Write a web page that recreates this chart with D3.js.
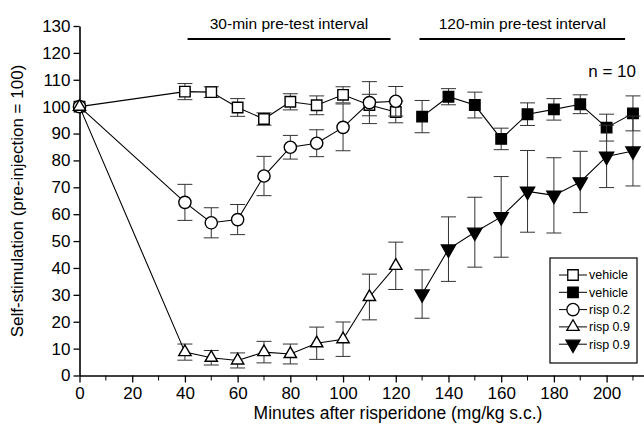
<!DOCTYPE html>
<html>
<head>
<meta charset="utf-8">
<script src="https://cdn.jsdelivr.net/npm/d3@7"></script>
<style>
  body { margin: 0; background: #fff; }
  svg { font-family: "Liberation Sans", Arial, sans-serif; }
</style>
</head>
<body>
<svg></svg>
<script>
const svgWidth = 644;
const svgHeight = 426;

// time points (minutes)
const times30 = [0, 40, 50, 60, 70, 80, 90, 100, 110, 120];
const times120 = [130, 140, 150, 160, 170, 180, 190, 200, 210];

// 30-min pre-test interval
const vehicleOpen = [100, 105.6, 105.4, 99.7, 95.4, 101.8, 100.5, 104.4, 100.6, 98];
const vehicleOpenErr = [0, 3, 2, 3.3, 2.3, 3, 3.5, 3, 4, 4];
const risp02 = [100, 64.4, 56.8, 58, 74.2, 84.9, 86.4, 92.3, 101.5, 102];
const risp02Err = [0, 6.7, 5.6, 5.6, 7.3, 4.4, 5, 8.7, 7.8, 5.5];
const risp09Open = [100, 8.7, 6.6, 5.6, 8.7, 8, 12, 13.5, 29.2, 40.8];
const risp09OpenErr = [0, 3, 2.7, 2.8, 4, 3.7, 6, 6.4, 8.5, 8.8];

// 120-min pre-test interval
const vehicleFilled = [96.3, 103.7, 100.6, 88, 97.2, 99, 100.9, 92.2, 97.5];
const vehicleFilledErr = [6, 3, 4.8, 4, 4.2, 4, 3.5, 5, 6.5];
const risp09Filled = [30.3, 47, 53.3, 59, 68.5, 67, 72, 81.5, 83.5];
const risp09FilledErr = [9, 12, 13, 15, 15.2, 14, 11.4, 11.6, 13];

const yTicks = d3.range(0, 131, 10);
const xTicksMajor = d3.range(0, 201, 20);
const xTicksMinor = d3.range(10, 211, 20);

const legendLabels = ["vehicle", "vehicle", "risp 0.2", "risp 0.9", "risp 0.9"];
const intervals = [
	{ label: "30-min pre-test interval", from: 41, to: 118 },
	{ label: "120-min pre-test interval", from: 129, to: 207 }
];

const svg = d3.select("svg")
	.attr("width", svgWidth)
	.attr("height", svgHeight);

const xScale = d3.scaleLinear()
	.domain([0, 214])
	.range([79.5, 643.5]);

const yScale = d3.scaleLinear()
	.domain([0, 130])
	.range([375.5, 26]);

const symSquare = d3.symbol().type(d3.symbolSquare).size(110);
const symCircle = d3.symbol().type(d3.symbolCircle).size(118);
const symTriUp = d3.symbol().type(d3.symbolTriangle).size(66);
const symTriDown = d3.symbol().type(d3.symbolTriangle).size(86);

const seriesList = [
	{ t: times120, v: vehicleFilled, e: vehicleFilledErr, sym: symSquare, fill: "#000", rot: 0 },
	{ t: times120, v: risp09Filled, e: risp09FilledErr, sym: symTriDown, fill: "#000", rot: 180 },
	{ t: times30, v: vehicleOpen, e: vehicleOpenErr, sym: symSquare, fill: "#fff", rot: 0 },
	{ t: times30, v: risp02, e: risp02Err, sym: symCircle, fill: "#fff", rot: 0 },
	{ t: times30, v: risp09Open, e: risp09OpenErr, sym: symTriUp, fill: "#fff", rot: 0 }
];

// Axes
const yAxis = d3.axisLeft(yScale)
	.tickValues(yTicks)
	.tickSize(6)
	.tickSizeOuter(0)
	.tickPadding(3);

const gy = svg.append("g")
	.attr("transform", `translate(${xScale(0)},0)`)
	.call(yAxis);

const xAxis = d3.axisBottom(xScale)
	.tickValues(xTicksMajor)
	.tickSize(7)
	.tickSizeOuter(0)
	.tickPadding(3);

const gx = svg.append("g")
	.attr("transform", `translate(0,${yScale(0)})`)
	.call(xAxis);

gx.selectAll(".minor")
	.data(xTicksMinor)
	.enter()
	.append("line")
	.attr("x1", d => xScale(d))
	.attr("x2", d => xScale(d))
	.attr("y1", 0)
	.attr("y2", 5)
	.attr("stroke", "#000");

[gx, gy].forEach(g => {
	g.select(".domain").attr("stroke-width", 1.6);
	g.selectAll(".tick line").attr("stroke-width", 1.3);
	g.selectAll("text")
		.attr("font-size", 17)
		.attr("fill", "#000")
		.attr("font-family", "Liberation Sans, Arial, sans-serif");
});
gx.selectAll(".tick text").attr("dy", "0.82em");

// Axes labels
svg.append("text")
	.text("Minutes after risperidone (mg/kg s.c.)")
	.attr("x", 398)
	.attr("y", 419)
	.attr("font-size", 17.5)
	.attr("text-anchor", "middle");

svg.append("text")
	.text("Self-stimulation (pre-injection = 100)")
	.attr("transform", "rotate(-90)")
	.attr("x", -201)
	.attr("y", 23)
	.attr("font-size", 17)
	.attr("text-anchor", "middle");

// Interval labels
const ints = svg.selectAll(".interval")
	.data(intervals)
	.enter()
	.append("g")
	.classed("interval", true);

ints.append("line")
	.attr("x1", d => xScale(d.from))
	.attr("x2", d => xScale(d.to))
	.attr("y1", 39)
	.attr("y2", 39)
	.attr("stroke", "#000")
	.attr("stroke-width", 2);

ints.append("text")
	.text(d => d.label)
	.attr("x", d => (xScale(d.from) + xScale(d.to)) / 2)
	.attr("y", 29)
	.attr("font-size", 15.5)
	.attr("text-anchor", "middle");

svg.append("text")
	.text("n = 10")
	.attr("x", 636)
	.attr("y", 77)
	.attr("font-size", 17)
	.attr("text-anchor", "end");

// Series
seriesList.forEach(s => {
	const pts = s.t.map((t, i) => ({ t: t, v: s.v[i], e: s.e[i] }));
	const g = svg.append("g");

	const eb = g.selectAll(".err")
		.data(pts.filter(d => d.e > 0))
		.enter()
		.append("g")
		.attr("stroke", "#333")
		.attr("stroke-width", 1);
	eb.append("line")
		.attr("x1", d => xScale(d.t))
		.attr("x2", d => xScale(d.t))
		.attr("y1", d => yScale(d.v + d.e))
		.attr("y2", d => yScale(d.v - d.e));
	[1, -1].forEach(sign => {
		eb.append("line")
			.attr("x1", d => xScale(d.t) - 7.5)
			.attr("x2", d => xScale(d.t) + 7.5)
			.attr("y1", d => yScale(d.v + sign * d.e))
			.attr("y2", d => yScale(d.v + sign * d.e));
	});

	g.append("path")
		.datum(pts)
		.attr("fill", "none")
		.attr("stroke", "#000")
		.attr("stroke-width", 1.1)
		.attr("d", d3.line().x(d => xScale(d.t)).y(d => yScale(d.v)));

	g.selectAll(".mark")
		.data(pts)
		.enter()
		.append("path")
		.attr("d", s.sym)
		.attr("transform", d => `translate(${xScale(d.t)},${yScale(d.v)}) rotate(${s.rot})`)
		.attr("fill", s.fill)
		.attr("stroke", "#000")
		.attr("stroke-width", 1.4);
});

// Legend
const legendSyms = [
	{ sym: symSquare, fill: "#fff", rot: 0 },
	{ sym: symSquare, fill: "#000", rot: 0 },
	{ sym: symCircle, fill: "#fff", rot: 0 },
	{ sym: symTriUp, fill: "#fff", rot: 0 },
	{ sym: symTriDown, fill: "#000", rot: 180 }
];

const legend = svg.append("g");
legend.append("rect")
	.attr("x", 550)
	.attr("y", 258)
	.attr("width", 87)
	.attr("height", 105)
	.attr("fill", "#fff")
	.attr("stroke", "#000")
	.attr("stroke-width", 1.2);

const items = legend.selectAll(".item")
	.data(legendLabels)
	.enter()
	.append("g")
	.attr("transform", (d, i) => `translate(573,${275 + i * 17.3})`);

items.append("line")
	.attr("x1", -14)
	.attr("x2", 14)
	.attr("stroke", "#000");

items.append("path")
	.attr("d", (d, i) => legendSyms[i].sym())
	.attr("transform", (d, i) => `rotate(${legendSyms[i].rot})`)
	.attr("fill", (d, i) => legendSyms[i].fill)
	.attr("stroke", "#000")
	.attr("stroke-width", 1.3);

items.append("text")
	.text(d => d)
	.attr("x", 16)
	.attr("dy", "0.35em")
	.attr("font-size", 12.5);
</script>
</body>
</html>
